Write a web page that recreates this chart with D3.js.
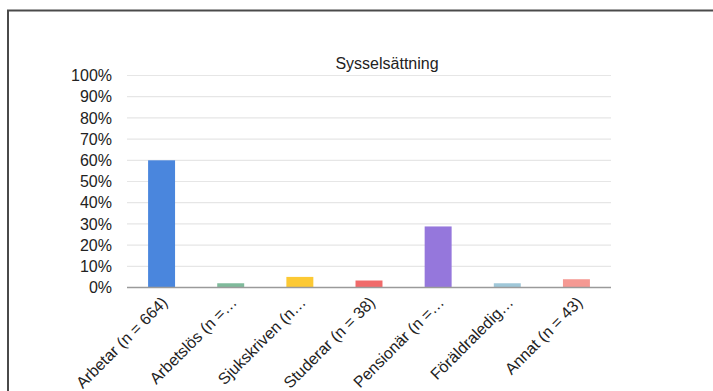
<!DOCTYPE html>
<html>
<head>
<meta charset="utf-8">
<script src="https://cdn.jsdelivr.net/npm/d3@7"></script>
<style>
  html, body { margin: 0; padding: 0; background: #fff; }
  svg { display: block; font-family: "Liberation Sans", Arial, sans-serif; }
</style>
</head>
<body>
<svg id="chart" width="713" height="391"></svg>
<script>
// Employment status shares (percent of respondents)
const categories = [
  "Arbetar (n = 664)",
  "Arbetslös (n =…",
  "Sjukskriven (n…",
  "Studerar (n = 38)",
  "Pensionär (n =…",
  "Föräldraledig…",
  "Annat (n = 43)"
];
const values = [60, 2, 5, 3.3, 28.8, 2, 3.9];
const barColors = ["#4a86dd", "#7fba9b", "#fcc934", "#f06a6a", "#9577dc", "#9fc7d8", "#f59993"];
const yTicks = [0, 10, 20, 30, 40, 50, 60, 70, 80, 90, 100];
const title = "Sysselsättning";

const svg = d3.select("#chart");

// outer frame
svg.append("rect")
  .attr("x", 8).attr("y", 10.5)
  .attr("width", 720).attr("height", 400)
  .attr("fill", "none").attr("stroke", "#4a4a4a").attr("stroke-width", 2);

const plot = { left: 127, right: 611, top: 75.5, bottom: 287.5 };

const x = d3.scaleBand()
  .domain(categories)
  .range([plot.left, plot.right])
  .paddingInner(0.61)
  .paddingOuter(0.305);

const y = d3.scaleLinear()
  .domain([0, 100])
  .range([plot.bottom, plot.top]);

// gridlines
svg.append("g")
  .selectAll("line")
  .data(yTicks.filter(t => t > 0))
  .join("line")
  .attr("x1", plot.left).attr("x2", plot.right)
  .attr("y1", d => y(d)).attr("y2", d => y(d))
  .attr("stroke", "#e6e6e6").attr("stroke-width", 1.2);

// y axis labels
const yAxis = d3.axisLeft(y).tickValues(yTicks).tickFormat(d => d + "%").tickSize(0).tickPadding(15);
const yg = svg.append("g").attr("transform", `translate(${plot.left},0)`).call(yAxis);
yg.select(".domain").remove();
yg.selectAll("text")
  .attr("font-size", 16)
  .attr("font-family", "'Liberation Sans', Arial, sans-serif")
  .attr("fill", "#222");

// bars
svg.append("g")
  .selectAll("rect")
  .data(values)
  .join("rect")
  .attr("x", (d, i) => x(categories[i]))
  .attr("y", d => y(d))
  .attr("width", x.bandwidth())
  .attr("height", d => y(0) - y(d))
  .attr("fill", (d, i) => barColors[i]);

// baseline
svg.append("line")
  .attr("x1", plot.left).attr("x2", plot.right)
  .attr("y1", y(0)).attr("y2", y(0))
  .attr("stroke", "#9a9a9a").attr("stroke-width", 1.3);

// x axis labels (rotated)
const xAxis = d3.axisBottom(x).tickSize(0).tickPadding(0);
const xg = svg.append("g").attr("transform", `translate(0,${plot.bottom})`).call(xAxis);
xg.select(".domain").remove();
xg.selectAll("text")
  .attr("font-size", 16)
  .attr("font-family", "'Liberation Sans', Arial, sans-serif")
  .attr("fill", "#222")
  .attr("text-anchor", "end")
  .attr("dy", "0")
  .attr("transform", "translate(7,16) rotate(-45)");

// title
svg.append("text")
  .attr("x", 387).attr("y", 69)
  .attr("text-anchor", "middle")
  .attr("font-size", 16)
  .attr("fill", "#222")
  .text(title);
</script>
</body>
</html>
